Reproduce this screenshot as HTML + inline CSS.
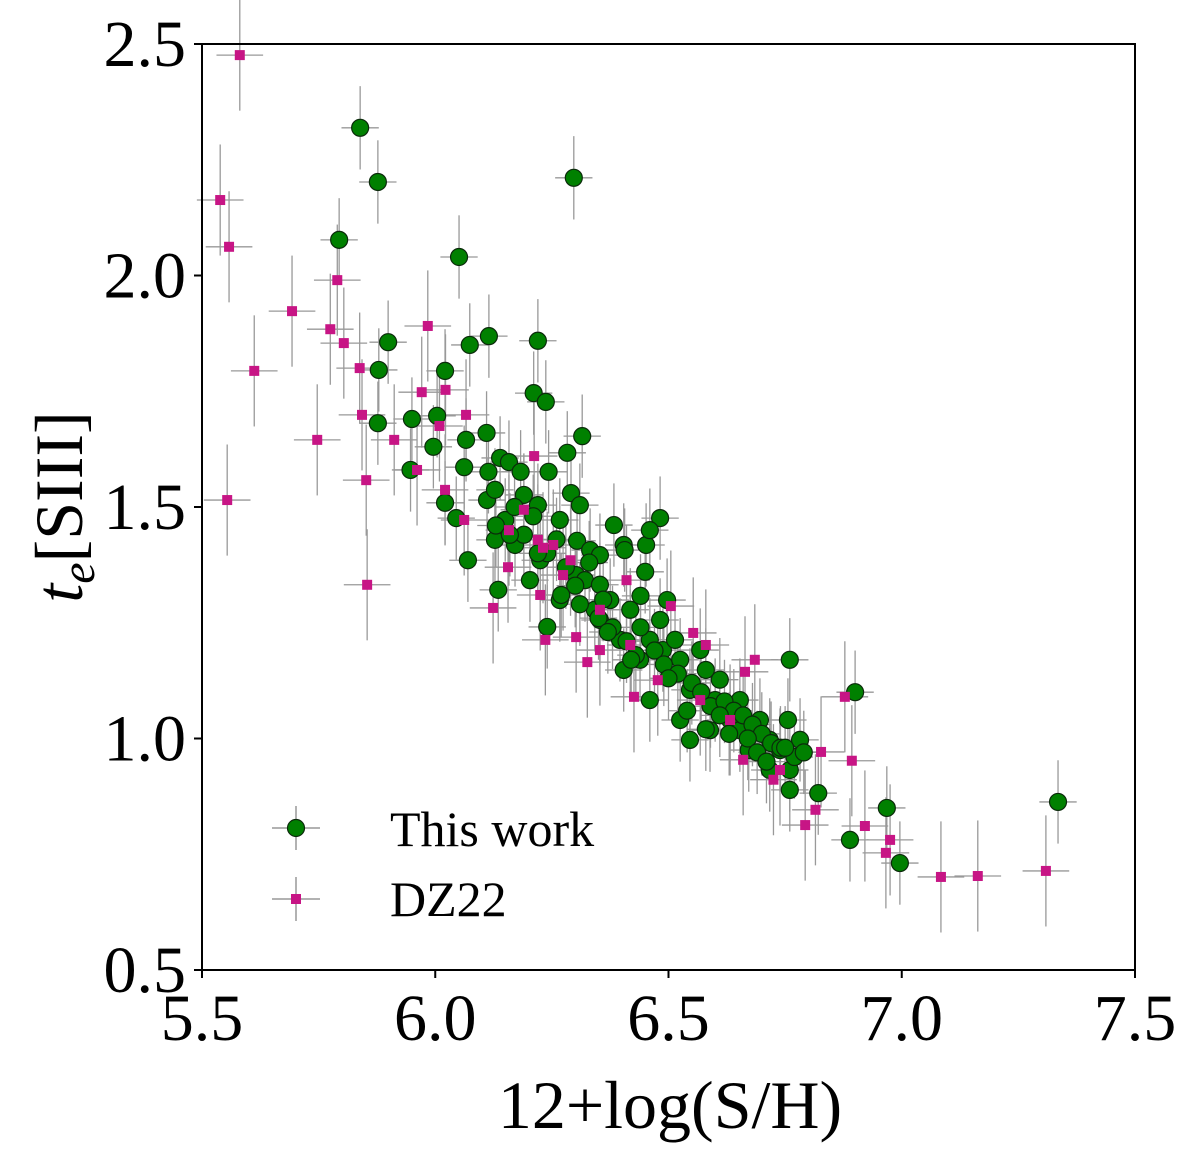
<!DOCTYPE html>
<html><head><meta charset="utf-8"><style>
body{margin:0;background:#fff}
svg text{font-family:"Liberation Serif",serif;fill:#000}
</style></head><body>
<svg id="chart" width="1200" height="1151" viewBox="0 0 1200 1151" xmlns="http://www.w3.org/2000/svg">
<g id="errs"></g>
<g id="green"></g>
<g id="pink"></g>
<rect x="202" y="44" width="933" height="926" fill="none" stroke="#000" stroke-width="2"/>
<g id="axes"></g>
<text x="670" y="1128" font-size="68" text-anchor="middle">12+log(S/H)</text>
<text transform="translate(82,507) rotate(-90)" font-size="68" text-anchor="middle"><tspan font-style="italic">t</tspan><tspan font-style="italic" font-size="48" dy="12">e</tspan><tspan dy="-12">[SIII]</tspan></text>
<g>
<line x1="272" y1="828" x2="320" y2="828" stroke="#999" stroke-width="1.5"/>
<line x1="296" y1="806" x2="296" y2="850" stroke="#999" stroke-width="1.5"/>
<circle cx="296" cy="828" r="8.5" fill="#008000" stroke="#0b2a0b" stroke-width="1.2"/>
<text x="390" y="846" font-size="50">This work</text>
<line x1="272" y1="899" x2="320" y2="899" stroke="#999" stroke-width="1.5"/>
<line x1="296" y1="877" x2="296" y2="921" stroke="#999" stroke-width="1.5"/>
<rect x="291" y="894" width="10" height="10" fill="#c71585"/>
<text x="390" y="916" font-size="50">DZ22</text>
</g>
</svg>
<script>
const xTicks=[5.5,6.0,6.5,7.0,7.5];
const yTicks=[0.5,1.0,1.5,2.0,2.5];
const greenX=[5.839,5.877,6.297,5.794,6.051,5.899,6.074,6.115,6.220,5.879,6.021,6.211,6.237,5.877,5.950,6.004,6.066,6.110,6.315,5.996,5.947,6.283,6.062,6.114,6.139,6.158,6.183,6.243,6.021,6.045,6.111,6.128,6.291,6.482,6.190,6.220,6.310,6.070,6.135,6.383,6.404,6.452,6.460,6.497,6.450,6.440,6.240,6.304,6.332,6.353,6.302,6.404,6.460,6.488,6.525,6.546,6.580,6.610,6.653,6.696,6.760,6.756,6.782,6.760,6.760,6.821,6.717,6.672,6.546,6.589,6.632,6.889,6.900,6.968,6.996,7.335,6.46,6.396,6.353,6.375,6.267,6.203,6.171,6.128,6.225,6.321,6.353,6.418,6.482,6.514,6.568,6.600,6.525,6.653,6.717,6.739,6.406,6.267,6.150,6.342,6.439,
6.13,6.17,6.19,6.21,6.24,6.26,6.28,6.30,6.33,6.36,6.38,6.41,6.43,6.47,6.49,6.52,6.55,6.57,6.59,6.62,6.64,6.66,6.68,6.70,6.72,6.74,6.77,6.16,6.22,6.27,6.31,6.35,6.37,6.42,6.44,6.50,6.54,6.58,6.61,6.63,6.67,6.69,6.71,6.75,6.79];
const greenY=[2.319,2.202,2.211,2.077,2.040,1.856,1.850,1.869,1.859,1.796,1.794,1.746,1.727,1.681,1.690,1.697,1.645,1.660,1.653,1.630,1.580,1.617,1.586,1.576,1.606,1.597,1.576,1.576,1.509,1.476,1.515,1.537,1.530,1.476,1.526,1.504,1.504,1.385,1.321,1.461,1.418,1.418,1.450,1.299,1.360,1.308,1.241,1.427,1.407,1.396,1.353,1.148,1.213,1.191,1.170,1.105,1.148,1.127,1.083,1.040,1.170,1.040,0.997,0.932,0.889,0.882,0.932,0.975,0.997,1.018,1.040,0.781,1.100,0.850,0.731,0.863,1.083,1.213,1.256,1.299,1.299,1.342,1.418,1.429,1.385,1.342,1.332,1.278,1.256,1.213,1.191,1.083,1.040,1.018,0.997,0.975,1.407,1.472,1.472,1.278,1.170,
1.46,1.50,1.44,1.48,1.40,1.43,1.37,1.33,1.38,1.30,1.24,1.21,1.18,1.19,1.16,1.14,1.12,1.10,1.07,1.08,1.06,1.05,1.03,1.01,0.99,0.98,0.96,1.44,1.40,1.31,1.29,1.26,1.23,1.17,1.24,1.13,1.06,1.02,1.05,1.01,1.00,0.97,0.95,0.98,0.97];
const pinkX=[5.581,5.539,5.558,5.693,5.790,5.775,5.804,5.984,5.612,5.838,5.971,6.022,5.747,5.843,5.912,6.009,6.066,5.554,5.961,5.852,5.854,6.021,6.062,6.124,6.156,6.212,6.220,6.231,6.225,6.236,6.290,6.302,6.326,6.353,6.410,6.426,6.505,6.477,6.553,6.580,6.664,6.685,6.660,6.725,6.793,6.815,6.827,6.878,6.893,6.921,6.966,6.975,7.084,7.163,7.309,6.19,6.158,6.353,6.568,6.418,6.632,6.739,6.253,6.274];
const pinkY=[2.476,2.163,2.062,1.923,1.990,1.884,1.854,1.891,1.794,1.800,1.748,1.753,1.645,1.699,1.645,1.675,1.699,1.515,1.580,1.558,1.332,1.537,1.472,1.282,1.370,1.610,1.429,1.412,1.310,1.213,1.385,1.219,1.165,1.278,1.342,1.090,1.286,1.126,1.228,1.202,1.144,1.170,0.954,0.911,0.813,0.846,0.971,1.090,0.952,0.811,0.753,0.781,0.701,0.703,0.714,1.494,1.450,1.191,1.083,1.202,1.040,0.932,1.418,1.353];
const greenXErr=0.04, greenYErr=0.09, pinkXErr=0.05, pinkYErr=0.12;
const NS='http://www.w3.org/2000/svg';
const X=v=>202+(v-5.5)*466.5;
const Y=v=>970-(v-0.5)*463;
function el(t,a,p){const e=document.createElementNS(NS,t);for(const k in a)e.setAttribute(k,a[k]);p.appendChild(e);return e;}
const axes=document.getElementById('axes');
xTicks.forEach(t=>{
  const l=el('line',{x1:X(t),x2:X(t),y1:970,y2:978,stroke:'#000','stroke-width':2},axes);
  
  
  const tx=el('text',{x:X(t),y:1040,'font-size':66,'text-anchor':'middle'},axes);
  tx.textContent=t.toFixed(1);
  
  
});
yTicks.forEach(t=>{
  const l=el('line',{x1:194,x2:202,y1:Y(t),y2:Y(t),stroke:'#000','stroke-width':2},axes);
  
  
  const tx=el('text',{x:186,y:Y(t)+22,'font-size':66,'text-anchor':'end'},axes);
  tx.textContent=t.toFixed(1);
  
  
});
const errs=document.getElementById('errs');
function eb(xs,ys,xe,ye){xs.forEach((x,i)=>{
  const y=ys[i];
  const a=el('line',{x1:X(x-xe),x2:X(x+xe),y1:Y(y),y2:Y(y),stroke:'#999','stroke-width':1.3},errs);
  
  
  const b=el('line',{x1:X(x),x2:X(x),y1:Y(y-ye),y2:Y(y+ye),stroke:'#999','stroke-width':1.3},errs);
  
  
});}
eb(greenX,greenY,greenXErr,greenYErr);
eb(pinkX,pinkY,pinkXErr,pinkYErr);
const g=document.getElementById('green');
greenX.forEach((x,i)=>{
  const c=el('circle',{cx:X(x),cy:Y(greenY[i]),r:8.5,fill:'#008000',stroke:'#0b2a0b','stroke-width':1.2},g);
  
  
});
const p=document.getElementById('pink');
pinkX.forEach((x,i)=>{
  const r=el('rect',{x:X(x)-5,y:Y(pinkY[i])-5,width:10,height:10,fill:'#c71585'},p);
  
  
});
</script>
</body></html>
